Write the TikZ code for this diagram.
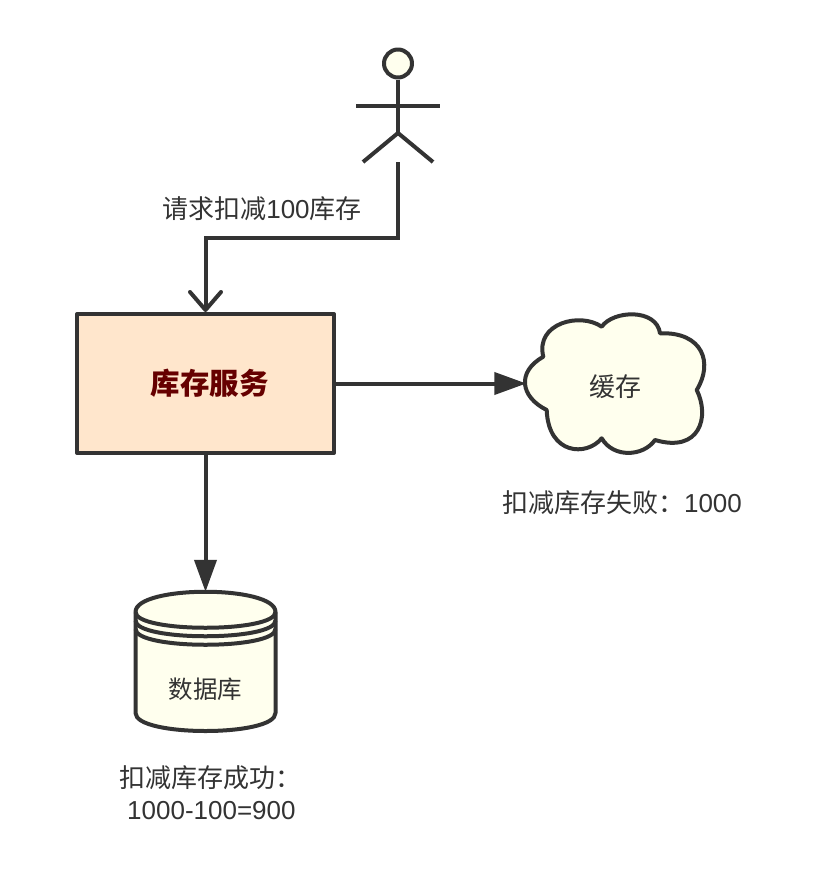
\documentclass[tikz,border=0pt]{standalone}
\usepackage{fontspec}
\setmainfont{Liberation Sans}
\newfontfamily\cjk{Noto Sans CJK SC}
\usetikzlibrary{arrows.meta}
\definecolor{ink}{HTML}{333333}
\definecolor{paper}{HTML}{FFFFEE}
\definecolor{peach}{HTML}{FFE6CC}
\definecolor{maroon}{HTML}{660000}
\tikzset{
  x=1pt,y=-1pt,
  outline/.style={draw=ink,line width=4pt,line join=round},
  conn/.style={draw=ink,line width=4pt},
  solidtip/.style={-{Triangle[length=32pt,width=22pt,fill=ink]}},
  opentip/.style={-{Straight Barb[length=18pt,width=31pt,line width=4pt,round]}},
  label/.style={text=ink,font=\fontsize{26}{32}\selectfont,inner sep=0pt},
  hidden/.style={inner sep=0pt,text=ink,font=\fontsize{25}{30}\selectfont},
}
\begin{document}
\begin{tikzpicture}
\useasboundingbox (0,0) rectangle (832,881);
% actor
\node[circle,outline,fill=paper,minimum size=28pt,inner sep=0pt] (head) at (398,63.5) {};
\coordinate (hip) at (398,133);
\coordinate (armL) at (356,105.5);
\coordinate (armR) at (440,105.5);
\coordinate (legL) at (363,162);
\coordinate (legR) at (433,162);
\coordinate (foot) at (398,162);
\coordinate (bend1) at (398,238);
\coordinate (bend2) at (205.5,238);
\draw[conn] (head.south) -- (hip);
\draw[conn] (armL) -- (armR);
\draw[conn] (legL) -- (hip) -- (legR);
% service box
\node[outline,fill=peach,minimum width=257pt,minimum height=139pt,inner sep=0pt,
      text=maroon,font=\fontsize{29.5}{30}\selectfont\cjk\bfseries] (svc) at (205.5,383.5) {\hspace{8pt}\raisebox{-11pt}[0pt][0pt]{库存服务}};
% cloud
\path[outline,fill=paper]
  (543.3,356.7) .. controls (535,323.3) and (580,311.7) .. (601.7,326.7)
  .. controls (613.3,310) and (656.7,308.3) .. (660,333.3)
  .. controls (703.3,331.7) and (713.3,363.3) .. (696.7,390)
  .. controls (710,416.7) and (700,453.3) .. (655,440)
  .. controls (643.3,456.7) and (613.3,458.3) .. (601.7,438.3)
  .. controls (586.7,456.7) and (548.3,455) .. (546.7,410)
  .. controls (520,396.7) and (516.7,371.7) .. (543.3,356.7) -- cycle;
\node[hidden,minimum width=178pt,minimum height=132pt,font=\fontsize{26}{30}\selectfont\cjk] (cache) at (615.5,387) {缓存};
% database
\path[outline,fill=paper]
  (135.5,612) .. controls (135.5,585) and (275.5,585) .. (275.5,612)
  -- (275.5,713) .. controls (275.5,737) and (135.5,737) .. (135.5,713) -- cycle;
\draw[outline] (135.5,612) .. controls (135.5,633) and (275.5,633) .. (275.5,612);
\draw[outline] (135.5,620.5) .. controls (135.5,641.5) and (275.5,641.5) .. (275.5,620.5);
\draw[outline] (135.5,629) .. controls (135.5,650) and (275.5,650) .. (275.5,629);
\node[hidden,minimum width=140pt,minimum height=139pt] (db) at (205.5,661.5) {};
\node[hidden,font=\fontsize{24.5}{30}\selectfont\cjk] (dbtext) at (205.5,689) {数据库};
% connectors
\draw[conn,opentip] (foot) -- (bend1) -- (bend2) -- (svc.north);
\draw[conn,solidtip] (svc.east) -- (svc.east -| cache.west);
\draw[conn,solidtip] (svc.south) -- (db.north);
% labels
\node[label] (reqlabel) at (262,208.5) {{\cjk 请求扣减}100{\cjk 库存}};
\node[label] (cachelabel) at (622,503) {{\cjk 扣减库存失败：}1000};
\node[label,align=left,anchor=north west] (dblabel) at (119,765.5) {{\cjk 扣减库存成功：}\\\hspace{8pt}1000-100=900};
\end{tikzpicture}
\end{document}
